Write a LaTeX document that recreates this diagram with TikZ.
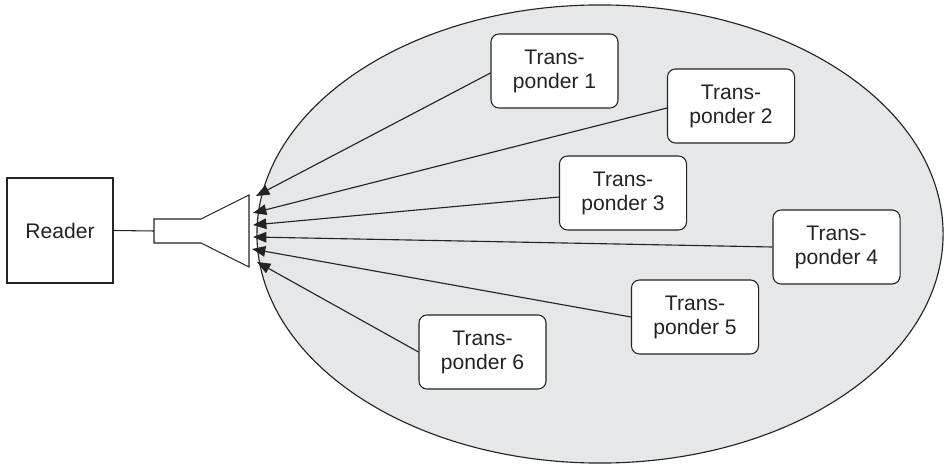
\documentclass[tikz,border=0pt]{standalone}
\usepackage{fontspec}
\setmainfont{Liberation Sans}
\usepackage{xcolor}
\usepackage{tikz}
\usetikzlibrary{arrows.meta, shapes.geometric}
\definecolor{fieldGray}{RGB}{230,231,233}
\definecolor{inkBlack}{RGB}{35,35,35}

\begin{document}
\begin{tikzpicture}[x=0.025cm, y=-0.025cm,
    tagbox/.style={rectangle, rounded corners=0.2cm, draw=inkBlack, line width=0.75pt, fill=white, align=center, minimum width=3.175cm, minimum height=1.85cm, inner sep=0pt, font=\fontsize{15}{17}\selectfont, text=inkBlack},
    readerbox/.style={rectangle, draw=inkBlack, line width=0.8pt, fill=white, minimum width=2.65cm, minimum height=2.625cm, inner sep=0pt, font=\fontsize{15}{17}\selectfont, text=inkBlack},
    wire/.style={draw=inkBlack, line width=0.75pt},
    arrow/.style={-{Triangle[length=9.5pt, width=7.5pt]}, draw=inkBlack, line width=0.8pt}
]
\useasboundingbox (0,0) rectangle (945,465);

% Read field
\node[ellipse, draw=inkBlack, line width=0.8pt, fill=fieldGray, minimum width=17.15cm, minimum height=11.45cm, inner sep=0pt] (field) at (600,234) {};

% Reader and antenna
\node[readerbox] (reader) at (60,230.5) {Reader};
\coordinate (feed) at (154,231);
\draw[wire] (154,219) -- (201,219) -- (249,195) -- (249,267) -- (201,243) -- (154,243) -- cycle;
\draw[wire] (reader.east) -- (feed);

% Arrow ends at the antenna
\coordinate (a1) at (256,196);
\coordinate (a2) at (253,213);
\coordinate (a3) at (253,225);
\coordinate (a4) at (253,237);
\coordinate (a5) at (252,249);
\coordinate (a6) at (257,262);

% Transponders
\node[tagbox] (tp1) at (554.5,71) {Trans-\\ponder 1};
\node[tagbox] (tp2) at (731,106) {Trans-\\ponder 2};
\node[tagbox] (tp3) at (623,193) {Trans-\\ponder 3};
\node[tagbox] (tp4) at (836.5,247) {Trans-\\ponder 4};
\node[tagbox] (tp5) at (695,317) {Trans-\\ponder 5};
\node[tagbox] (tp6) at (482.5,352) {Trans-\\ponder 6};

% Replies to the antenna
\draw[arrow] ([yshift=-0.05cm]tp1.west) -- (a1);
\draw[arrow] ([yshift=-0.05cm]tp2.west) -- (a2);
\draw[arrow] ([yshift=-0.1cm]tp3.west) -- (a3);
\draw[arrow] (tp4.west) -- (a4);
\draw[arrow] (tp5.west) -- (a5);
\draw[arrow] (tp6.west) -- (a6);

\end{tikzpicture}
\end{document}
